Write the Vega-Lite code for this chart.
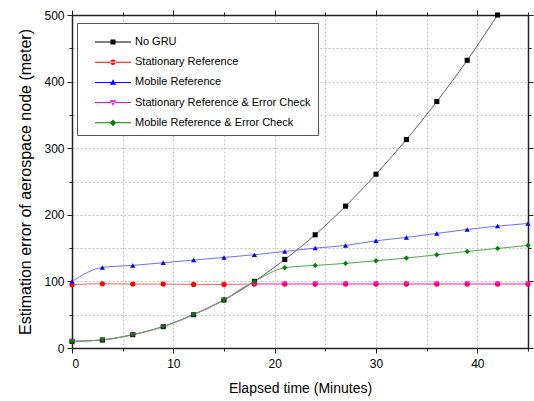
{
  "$schema": "https://vega.github.io/schema/vega-lite/v6.json",
  "width": 456,
  "height": 333,
  "autosize": {"type": "none"},
  "padding": {"left": 72, "top": 15, "right": 6, "bottom": 53},
  "background": "white",
  "config": {
    "font": "Liberation Sans",
    "view": {"stroke": null},
    "axis": {
      "labelFont": "Liberation Sans", "labelFontSize": 12, "labelColor": "#000",
      "titleFont": "Liberation Sans", "titleFontSize": 14, "titleFontWeight": "normal", "titleColor": "#000",
      "domainColor": "#222", "domainWidth": 1.5, "tickColor": "#222", "tickWidth": 1,
      "gridColor": "#c4c4c4", "gridDash": [2, 2], "gridWidth": 1
    }
  },
  "data": {
    "values": [
      {"t": 0, "v": 10, "s": "No GRU"}, {"t": 3, "v": 12, "s": "No GRU"}, {"t": 6, "v": 20, "s": "No GRU"},
      {"t": 9, "v": 32, "s": "No GRU"}, {"t": 12, "v": 50, "s": "No GRU"}, {"t": 15, "v": 72, "s": "No GRU"},
      {"t": 18, "v": 100, "s": "No GRU"}, {"t": 21, "v": 133, "s": "No GRU"}, {"t": 24, "v": 170, "s": "No GRU"},
      {"t": 27, "v": 213, "s": "No GRU"}, {"t": 30, "v": 261, "s": "No GRU"}, {"t": 33, "v": 313, "s": "No GRU"},
      {"t": 36, "v": 370, "s": "No GRU"}, {"t": 39, "v": 432, "s": "No GRU"}, {"t": 42, "v": 500, "s": "No GRU"},

      {"t": 0, "v": 95, "s": "Stationary Reference"}, {"t": 3, "v": 96.5, "s": "Stationary Reference"},
      {"t": 6, "v": 96, "s": "Stationary Reference"}, {"t": 9, "v": 96, "s": "Stationary Reference"},
      {"t": 12, "v": 95.5, "s": "Stationary Reference"}, {"t": 15, "v": 95.5, "s": "Stationary Reference"},
      {"t": 18, "v": 96, "s": "Stationary Reference"}, {"t": 21, "v": 96, "s": "Stationary Reference"},
      {"t": 24, "v": 96, "s": "Stationary Reference"}, {"t": 27, "v": 96, "s": "Stationary Reference"},
      {"t": 30, "v": 96, "s": "Stationary Reference"}, {"t": 33, "v": 96, "s": "Stationary Reference"},
      {"t": 36, "v": 96, "s": "Stationary Reference"}, {"t": 39, "v": 96, "s": "Stationary Reference"},
      {"t": 42, "v": 96, "s": "Stationary Reference"}, {"t": 45, "v": 96, "s": "Stationary Reference"},

      {"t": 0, "v": 100, "s": "Mobile Reference"}, {"t": 3, "v": 121, "s": "Mobile Reference"},
      {"t": 6, "v": 124, "s": "Mobile Reference"}, {"t": 9, "v": 128, "s": "Mobile Reference"},
      {"t": 12, "v": 132, "s": "Mobile Reference"}, {"t": 15, "v": 136, "s": "Mobile Reference"},
      {"t": 18, "v": 140, "s": "Mobile Reference"}, {"t": 21, "v": 145, "s": "Mobile Reference"},
      {"t": 24, "v": 150, "s": "Mobile Reference"}, {"t": 27, "v": 154, "s": "Mobile Reference"},
      {"t": 30, "v": 161, "s": "Mobile Reference"}, {"t": 33, "v": 166, "s": "Mobile Reference"},
      {"t": 36, "v": 172, "s": "Mobile Reference"}, {"t": 39, "v": 178, "s": "Mobile Reference"},
      {"t": 42, "v": 183, "s": "Mobile Reference"}, {"t": 45, "v": 187, "s": "Mobile Reference"},

      {"t": 0, "v": 10, "s": "Stationary Reference & Error Check"}, {"t": 3, "v": 12, "s": "Stationary Reference & Error Check"},
      {"t": 6, "v": 20, "s": "Stationary Reference & Error Check"}, {"t": 9, "v": 32, "s": "Stationary Reference & Error Check"},
      {"t": 12, "v": 50, "s": "Stationary Reference & Error Check"}, {"t": 15, "v": 72, "s": "Stationary Reference & Error Check"},
      {"t": 18, "v": 96.5, "s": "Stationary Reference & Error Check"}, {"t": 21, "v": 96.5, "s": "Stationary Reference & Error Check"},
      {"t": 24, "v": 96.5, "s": "Stationary Reference & Error Check"}, {"t": 27, "v": 96.5, "s": "Stationary Reference & Error Check"},
      {"t": 30, "v": 96.5, "s": "Stationary Reference & Error Check"}, {"t": 33, "v": 96.5, "s": "Stationary Reference & Error Check"},
      {"t": 36, "v": 96.5, "s": "Stationary Reference & Error Check"}, {"t": 39, "v": 96.5, "s": "Stationary Reference & Error Check"},
      {"t": 42, "v": 96.5, "s": "Stationary Reference & Error Check"}, {"t": 45, "v": 96.5, "s": "Stationary Reference & Error Check"},

      {"t": 0, "v": 10, "s": "Mobile Reference & Error Check"}, {"t": 3, "v": 12.5, "s": "Mobile Reference & Error Check"},
      {"t": 6, "v": 20, "s": "Mobile Reference & Error Check"}, {"t": 9, "v": 32.5, "s": "Mobile Reference & Error Check"},
      {"t": 12, "v": 50.5, "s": "Mobile Reference & Error Check"}, {"t": 15, "v": 72.5, "s": "Mobile Reference & Error Check"},
      {"t": 18, "v": 100, "s": "Mobile Reference & Error Check"}, {"t": 21, "v": 120.5, "s": "Mobile Reference & Error Check"},
      {"t": 24, "v": 124, "s": "Mobile Reference & Error Check"}, {"t": 27, "v": 127, "s": "Mobile Reference & Error Check"},
      {"t": 30, "v": 131, "s": "Mobile Reference & Error Check"}, {"t": 33, "v": 135, "s": "Mobile Reference & Error Check"},
      {"t": 36, "v": 140, "s": "Mobile Reference & Error Check"}, {"t": 39, "v": 145, "s": "Mobile Reference & Error Check"},
      {"t": 42, "v": 149.5, "s": "Mobile Reference & Error Check"}, {"t": 45, "v": 154, "s": "Mobile Reference & Error Check"}
    ]
  },
  "layer": [
    {
      "mark": {"type": "line", "interpolate": "monotone", "strokeWidth": 1, "clip": true},
      "encoding": {
        "x": {
          "field": "t", "type": "quantitative",
          "scale": {"domain": [0, 45], "nice": false, "zero": false},
          "axis": {
            "orient": "bottom", "title": "Elapsed time (Minutes)",
            "values": [0, 5, 10, 15, 20, 25, 30, 35, 40, 45],
            "labelExpr": "datum.value % 10 === 0 ? datum.label : ''",
            "grid": true,
            "tickSize": {"condition": {"test": "datum.value % 10 === 0", "value": 5}, "value": 3},
            "labelPadding": 5, "titlePadding": 12
          }
        },
        "y": {
          "field": "v", "type": "quantitative",
          "scale": {"domain": [0, 500], "nice": false},
          "axis": {
            "orient": "left", "title": "Estimation error of aerospace node (meter)",
            "titleFontSize": 16,
            "values": [0, 50, 100, 150, 200, 250, 300, 350, 400, 450, 500],
            "labelExpr": "datum.value % 100 === 0 ? datum.label : ''",
            "grid": true,
            "tickSize": {"condition": {"test": "datum.value % 100 === 0", "value": 5}, "value": 3},
            "labelPadding": 3, "titlePadding": 10
          }
        },
        "color": {
          "field": "s", "type": "nominal",
          "scale": {
            "domain": ["No GRU", "Stationary Reference", "Mobile Reference", "Stationary Reference & Error Check", "Mobile Reference & Error Check"],
            "range": ["#606060", "#ff6060", "#7070ff", "#ff70ff", "#50a850"]
          },
          "legend": null
        }
      }
    },
    {
      "mark": {"type": "point", "filled": true, "opacity": 1},
      "encoding": {
        "x": {
          "field": "t", "type": "quantitative",
          "axis": {
            "orient": "top", "title": null, "labels": false, "grid": false,
            "values": [0, 5, 10, 15, 20, 25, 30, 35, 40, 45],
            "tickSize": {"condition": {"test": "datum.value % 10 === 0", "value": 5}, "value": 3}
          }
        },
        "y": {
          "field": "v", "type": "quantitative",
          "axis": {
            "orient": "right", "title": null, "labels": false, "grid": false,
            "values": [0, 50, 100, 150, 200, 250, 300, 350, 400, 450, 500],
            "tickSize": {"condition": {"test": "datum.value % 100 === 0", "value": 5}, "value": 3}
          }
        },
        "color": {
          "field": "s", "type": "nominal",
          "scale": {
            "domain": ["No GRU", "Stationary Reference", "Mobile Reference", "Stationary Reference & Error Check", "Mobile Reference & Error Check"],
            "range": ["#000000", "#ff0000", "#0000ff", "#ff00ff", "#008000"]
          },
          "legend": null
        },
        "shape": {
          "field": "s", "type": "nominal",
          "scale": {
            "domain": ["No GRU", "Stationary Reference", "Mobile Reference", "Stationary Reference & Error Check", "Mobile Reference & Error Check"],
            "range": ["square", "circle", "triangle-up", "triangle-down", "diamond"]
          },
          "legend": null
        },
        "size": {
          "field": "s", "type": "nominal",
          "scale": {
            "domain": ["No GRU", "Stationary Reference", "Mobile Reference", "Stationary Reference & Error Check", "Mobile Reference & Error Check"],
            "range": [26, 28, 34, 34, 48]
          },
          "legend": null
        }
      }
    },
    {
      "mark": {"type": "point", "filled": true, "size": 0, "opacity": 1},
      "encoding": {
        "x": {"field": "t", "type": "quantitative", "axis": null},
        "y": {"field": "v", "type": "quantitative", "axis": null},
        "color": {
          "field": "s", "type": "nominal",
          "scale": {
            "domain": ["No GRU", "Stationary Reference", "Mobile Reference", "Stationary Reference & Error Check", "Mobile Reference & Error Check"],
            "range": ["#000000", "#ff0000", "#0000ff", "#ff00ff", "#008000"]
          },
          "legend": {
            "orient": "none", "legendX": 5, "legendY": 8, "title": null,
            "fillColor": "white", "strokeColor": "#555", "padding": 7,
            "labelFont": "Liberation Sans", "labelFontSize": 11, "labelColor": "#000", "labelLimit": 400,
            "symbolSize": 576, "symbolStrokeWidth": 0, "rowPadding": 3.2, "labelOffset": 27
          }
        },
        "shape": {
          "field": "s", "type": "nominal",
          "scale": {
            "domain": ["No GRU", "Stationary Reference", "Mobile Reference", "Stationary Reference & Error Check", "Mobile Reference & Error Check"],
            "range": [
              "M-0.083,-0.042H2.917V0.042H-0.083ZM1.207,-0.21H1.627V0.21H1.207Z",
              "M-0.083,-0.042H2.917V0.042H-0.083ZM1.187,0A0.23,0.23 0 1,0 1.647,0A0.23,0.23 0 1,0 1.187,0Z",
              "M-0.083,-0.042H2.917V0.042H-0.083ZM1.417,-0.27L1.677,0.19H1.157Z",
              "M-0.083,-0.042H2.917V0.042H-0.083ZM1.417,0.27L1.677,-0.19H1.157Z",
              "M-0.083,-0.042H2.917V0.042H-0.083ZM1.417,-0.28L1.697,0L1.417,0.28L1.137,0Z"
            ]
          },
          "legend": {
            "orient": "none", "legendX": 5, "legendY": 8, "title": null,
            "fillColor": "white", "strokeColor": "#555", "padding": 7,
            "labelFont": "Liberation Sans", "labelFontSize": 11, "labelColor": "#000", "labelLimit": 400,
            "symbolSize": 576, "symbolStrokeWidth": 0, "rowPadding": 3.2, "labelOffset": 27
          }
        }
      }
    }
  ],
  "resolve": {
    "axis": {"x": "independent", "y": "independent"},
    "scale": {"color": "independent", "shape": "independent"}
  }
}
